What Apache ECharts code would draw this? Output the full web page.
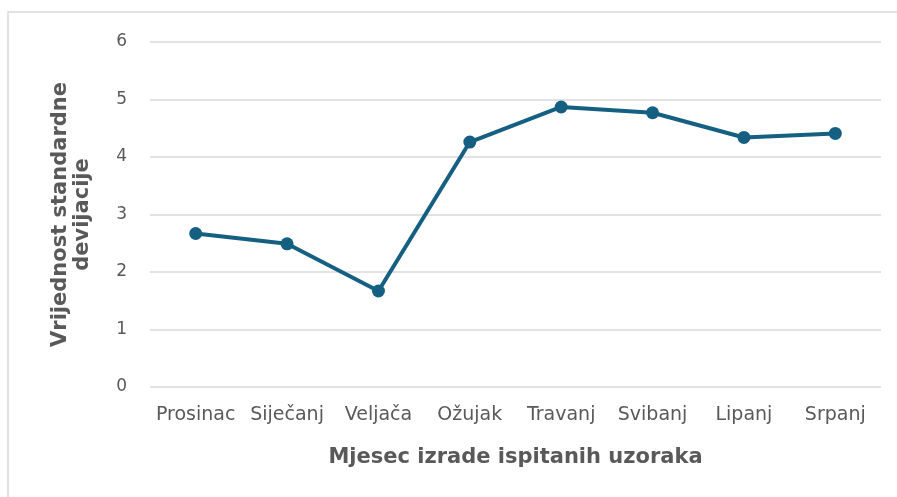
<!DOCTYPE html>
<html>
<head>
<meta charset="utf-8">
<script src="https://cdn.jsdelivr.net/npm/echarts@6/dist/echarts.min.js"></script>
<style>
  html, body { margin: 0; padding: 0; background: #fff; }
  #main { width: 897px; height: 497px; }
</style>
</head>
<body>
<div id="main"></div>
<script>
// kategorije (mjeseci) i vrijednosti standardne devijacije
var months = ['Prosinac', 'Siječanj', 'Veljača', 'Ožujak', 'Travanj', 'Svibanj', 'Lipanj', 'Srpanj'];
var stdDev = [2.67, 2.49, 1.67, 4.26, 4.87, 4.77, 4.34, 4.41];
var yTicks = [0, 1, 2, 3, 4, 5, 6];

var chart = echarts.init(document.getElementById('main'));
chart.setOption({
  animation: false,
  textStyle: { fontFamily: 'DejaVu Sans' },
  graphic: [{
    type: 'rect',
    shape: { x: 8, y: 12, width: 1000, height: 600 },
    style: { fill: 'none', stroke: '#d9d9d9', lineWidth: 1.5 },
    silent: true
  }],
  grid: { left: 150, right: 16, top: 42, bottom: 110, containLabel: false },
  xAxis: {
    type: 'category',
    data: months,
    boundaryGap: true,
    axisLine: { show: false },
    axisTick: { show: false },
    axisLabel: { interval: 0, color: '#595959', fontSize: 19, margin: 19 },
    name: 'Mjesec izrade ispitanih uzoraka',
    nameLocation: 'middle',
    nameGap: 60,
    nameTextStyle: { color: '#595959', fontSize: 21, fontWeight: 'bold' }
  },
  yAxis: {
    type: 'value',
    min: yTicks[0],
    max: yTicks[yTicks.length - 1],
    interval: 1,
    axisLine: { show: false },
    axisTick: { show: false },
    axisLabel: { color: '#595959', fontSize: 17, margin: 23 },
    splitLine: { lineStyle: { color: '#d9d9d9', width: 1.5 } },
    name: 'Vrijednost standardne\ndevijacije',
    nameLocation: 'middle',
    nameGap: 56,
    nameRotate: 90,
    nameTextStyle: { color: '#595959', fontSize: 21, fontWeight: 'bold', lineHeight: 22 }
  },
  series: [{
    type: 'line',
    data: stdDev,
    symbol: 'circle',
    symbolSize: 13,
    lineStyle: { color: '#156082', width: 4 },
    itemStyle: { color: '#156082' }
  }]
});
</script>
</body>
</html>
